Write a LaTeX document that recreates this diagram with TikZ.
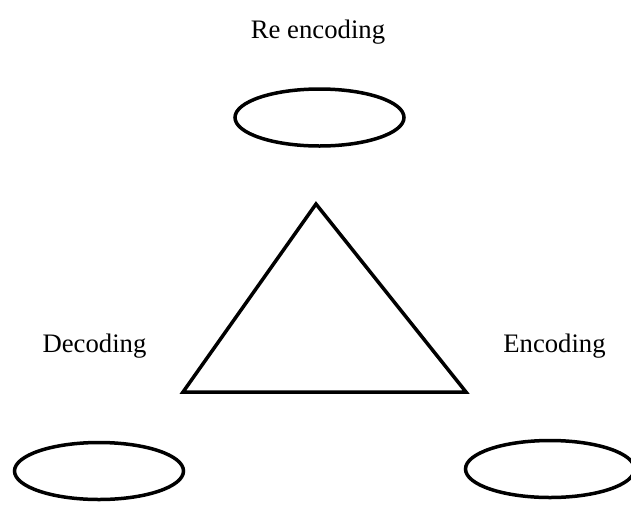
\documentclass[tikz,border=0pt]{standalone}
\usepackage{fontspec}
\setmainfont{Liberation Serif}
\usetikzlibrary{shapes.geometric}
\begin{document}
\begin{tikzpicture}[x=1pt,y=-1pt,
  oval/.style={draw,ellipse,line width=3.5pt,inner sep=0pt,minimum width=169pt,minimum height=57pt},
  lbl/.style={anchor=base,inner sep=0pt,font=\fontsize{26.7}{32}\selectfont},
  tri/.style={draw,line width=3.5pt,line join=miter}]
\useasboundingbox (0,0) rectangle (631,504);
\node[lbl] (re) at (318,38) {Re encoding};
\node[lbl] (dec) at (94.5,352) {Decoding};
\node[lbl] (enc) at (554.5,352) {Encoding};
\node[oval] (top) at (319.5,117.5) {};
\node[oval] (left) at (99,471) {};
\node[oval] (right) at (550,469) {};
\coordinate (apex) at (316,204);
\coordinate (bl) at (183,392);
\coordinate (br) at (466,392);
\draw[tri] (apex) -- (bl) -- (br) -- cycle;
\end{tikzpicture}
\end{document}
